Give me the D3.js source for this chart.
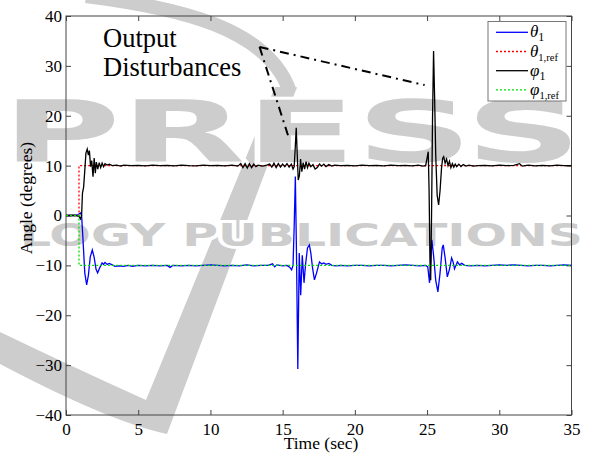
<!DOCTYPE html>
<html>
<head>
<meta charset="utf-8">
<script src="https://cdn.jsdelivr.net/npm/d3@7"></script>
<style>
  body { margin: 0; background: #fff; }
  svg { display: block; }
  svg text { font-family: "Liberation Serif", "Times New Roman", serif; }
  svg text.wm { font-family: "DejaVu Sans", sans-serif; }
</style>
</head>
<body>
<div id="chart"></div>
<script>
const xTicks = [0, 5, 10, 15, 20, 25, 30, 35];
const yTicks = [-40, -30, -20, -10, 0, 10, 20, 30, 40];

// [time (sec), angle (deg)]
const theta1 = [
  [0, 0], [0.3, 0.05], [0.6, 0], [0.85, 0.2], [1.0, 0.5], [1.08, 0], [1.18, -5], [1.3, -11.5],
  [1.43, -13.9], [1.55, -12], [1.68, -8.3], [1.82, -6.9], [1.95, -8.4], [2.08, -10.8], [2.19, -11.5],
  [2.35, -10.4], [2.5, -9.5], [2.6, -9.8], [2.7, -9.4], [2.85, -9.8], [3.0, -9.6], [3.2, -9.9],
  [3.4, -10.2], [3.7, -10.1], [4.0, -10.2], [4.3, -10], [4.6, -10.2], [5.0, -10], [5.5, -10.1],
  [6.0, -10], [6.5, -10.1], [7.0, -10], [7.2, -10.4], [7.4, -10], [8, -10.1], [8.5, -10], [9, -10.1],
  [9.5, -10], [10, -9.9], [10.5, -10], [11, -10.1], [11.5, -10], [12, -10.1], [12.5, -9.9], [13, -10.1],
  [13.5, -10], [14, -10], [14.3, -9.7], [14.45, -10.3], [14.6, -9.9], [15, -10.1], [15.3, -10],
  [15.5, -10.4], [15.62, -10.9], [15.72, -10], [15.8, -2], [15.88, 7.8], [15.96, -8], [16.05, -30.8],
  [16.15, -7.5], [16.25, -16], [16.36, -8], [16.48, -13.5], [16.58, -10], [16.72, -6.5], [16.85, -5.9],
  [16.95, -7.5], [17.07, -10.5], [17.2, -12.9], [17.35, -11.5], [17.55, -9.3], [17.7, -9.7],
  [17.85, -9.5], [18.0, -9.8], [18.2, -9.6], [18.4, -10], [18.7, -10.1], [19, -10], [19.5, -10.1],
  [20, -10], [20.5, -10], [21, -10.1], [21.5, -10], [22, -10], [22.5, -10.1], [23, -10], [23.5, -9.9],
  [24, -10], [24.5, -10.1], [24.9, -10], [25.05, -10.3], [25.17, -13.5], [25.26, -9], [25.33, -4.9],
  [25.45, -8], [25.6, -13], [25.75, -15.3], [25.9, -11.5], [26.05, -6.5], [26.12, -5.9], [26.25, -8.5],
  [26.4, -12.3], [26.55, -10.8], [26.7, -8.5], [26.8, -9.3], [26.9, -10.7], [27.0, -10], [27.1, -9.3],
  [27.25, -9.9], [27.4, -9.6], [27.6, -10], [28, -10.1], [28.5, -10], [29, -10.1], [29.5, -10],
  [30, -9.9], [30.5, -10], [31, -9.9], [31.5, -10], [32, -10.1], [32.5, -10], [33, -10], [33.5, -10.1],
  [34, -10], [34.5, -9.9], [35, -10]
];
const theta1Ref = [[0, 0], [0.9, 0], [0.9, 10], [35, 10]];
const phi1 = [
  [0, 0], [0.3, 0], [0.6, 0.05], [0.9, -0.2], [1.0, -0.7], [1.08, 0], [1.14, 4.5], [1.22, 5.7],
  [1.3, 9], [1.38, 12.5], [1.47, 13.3], [1.55, 12.1], [1.62, 13], [1.7, 9.8], [1.78, 11], [1.87, 7.8],
  [1.95, 11.5], [2.03, 8.5], [2.1, 10.7], [2.2, 9.3], [2.3, 10.6], [2.4, 9.6], [2.5, 10.5], [2.6, 9.8],
  [2.7, 10.4], [2.85, 10.1], [3.0, 10.3], [3.2, 10], [3.5, 10.1], [3.8, 9.9], [4, 10.1], [4.5, 10],
  [5, 10.05], [5.5, 9.95], [6, 10.1], [6.5, 10], [7, 10.05], [7.5, 9.95], [8, 10.1], [8.5, 10],
  [9, 9.95], [9.5, 10.1], [10, 10], [10.5, 10.05], [11, 9.95], [11.5, 10.1], [11.9, 9.9],
  [12.1, 10.4], [12.25, 9.6], [12.4, 10.4], [12.55, 9.5], [12.7, 10.4], [12.85, 9.6], [13.0, 10.3],
  [13.15, 9.8], [13.3, 10.1], [13.6, 9.9], [13.9, 10.1], [14.1, 10.3], [14.25, 9.7], [14.4, 10.5],
  [14.55, 9.6], [14.7, 10.4], [14.85, 9.7], [15.0, 10.3], [15.15, 9.8], [15.3, 10.4], [15.45, 9.7],
  [15.6, 10.3], [15.72, 9.3], [15.8, 9.8], [15.88, 14], [15.94, 17.6], [16.0, 13], [16.08, 7.1],
  [16.16, 8], [16.24, 11.3], [16.33, 8.8], [16.42, 10.6], [16.52, 9.3], [16.62, 10.8], [16.72, 9.6],
  [16.82, 10.5], [16.95, 9.8], [17.1, 10.2], [17.25, 9.3], [17.4, 9.6], [17.55, 10.3], [17.7, 9.9],
  [17.85, 10.3], [18.0, 9.8], [18.2, 10.2], [18.4, 9.9], [18.6, 10.1], [19, 10], [19.5, 10.05],
  [20, 9.95], [20.5, 10.1], [21, 10], [21.5, 10.05], [22, 9.95], [22.5, 10.1], [23, 10], [23.5, 10.05],
  [24, 9.95], [24.4, 10.1], [24.7, 9.9], [24.9, 10], [25.0, 11.5], [25.08, 12.8], [25.14, 5],
  [25.2, -9], [25.25, -13], [25.31, 0], [25.38, 20], [25.45, 33], [25.52, 24], [25.6, 12], [25.7, 4],
  [25.8, 2.1], [25.9, 5], [26.0, 9.5], [26.08, 11.5], [26.15, 11.8], [26.25, 10.5], [26.35, 11.3],
  [26.45, 10], [26.55, 10.9], [26.65, 9.6], [26.75, 10.4], [26.85, 9.7], [26.95, 10.3], [27.05, 9.8],
  [27.2, 10.3], [27.35, 9.8], [27.5, 10.2], [27.7, 9.9], [27.9, 10.1], [28.2, 9.9], [28.5, 10],
  [29, 10.05], [29.5, 9.95], [30, 10.1], [30.5, 10], [31, 10.05], [31.4, 10.4], [31.6, 9.9], [32, 10.1],
  [32.5, 9.95], [33, 10.05], [33.5, 9.95], [34, 10.1], [34.5, 10], [35, 10]
];
const phi1Ref = [[0, 0], [0.9, 0], [0.9, -10], [35, -10]];

// annotation: apex of the two dash-dot pointers and their ends
const pointerApex = [13.4, 33.8];
const pointerEnds = [[15.37, 16.1], [24.83, 26.15]];
const annotationLines = ["Output", "Disturbances"];

const legendItems = [
  { sym: "θ", sub: "1", color: "#0000ff", dash: null, data: theta1 },
  { sym: "θ", sub: "1,ref", color: "#ff0000", dash: "2,2", data: theta1Ref },
  { sym: "φ", sub: "1", color: "#000000", dash: null, data: phi1 },
  { sym: "φ", sub: "1,ref", color: "#00dd00", dash: "2,2", data: phi1Ref }
];

// publisher watermark behind the figure
const watermarkWords = [
  { text: "PRESS", x: 2, y: 162, size: 85, len: 580 },
  { text: "LOGY PUBLICATIONS", x: 20, y: 246, size: 32, len: 563 }
];
const watermarkShapes = [
  "M0,332 Q75,368 146,400 L275,87 L297,87 L167,434 Q110,422 0,364 Z"
];
const watermarkArc = "M86,-4 C180,8 268,28 290,92";

const W = 592, H = 460;
const M = { left: 66, right: 20.5, top: 16, bottom: 45 };
const FONT = "Liberation Serif";
const WM_COLOR = "#cdcdcd";

const svg = d3.select("#chart").append("svg")
  .attr("width", W).attr("height", H)
  .attr("viewBox", `0 0 ${W} ${H}`)
  .attr("font-family", FONT);

const x = d3.scaleLinear().domain([0, 35]).range([M.left, W - M.right]);
const y = d3.scaleLinear().domain([-40, 40]).range([H - M.bottom, M.top]);

// watermark
const wm = svg.append("g").attr("fill", WM_COLOR);
wm.append("path")
  .attr("d", watermarkArc)
  .attr("fill", "none").attr("stroke", WM_COLOR).attr("stroke-width", 14);
wm.selectAll("path.shape").data(watermarkShapes).join("path")
  .attr("class", "shape").attr("d", (d) => d);
wm.selectAll("text").data(watermarkWords).join("text")
  .attr("class", "wm")
  .attr("x", (d) => d.x).attr("y", (d) => d.y)
  .attr("font-weight", "bold")
  .attr("font-size", (d) => d.size)
  .attr("textLength", (d) => d.len)
  .attr("lengthAdjust", "spacingAndGlyphs")
  .attr("stroke", "#fff").attr("stroke-width", 6)
  .attr("paint-order", "stroke")
  .text((d) => d.text);

// axes with inward ticks on all four sides
const axisColor = "#444";
function styleAxis(g) {
  g.select(".domain").remove();
  g.attr("font-family", FONT).attr("font-size", 17);
  g.selectAll("line").attr("stroke", axisColor);
  g.selectAll("text").attr("fill", "#000");
}
svg.append("g").attr("transform", `translate(0,${y(-40)})`)
  .call(d3.axisBottom(x).tickValues(xTicks).tickSizeInner(-5).tickSizeOuter(0).tickPadding(8))
  .call(styleAxis);
svg.append("g").attr("transform", `translate(0,${y(40)})`)
  .call(d3.axisTop(x).tickValues(xTicks).tickSizeInner(-5).tickSizeOuter(0).tickFormat(""))
  .call(styleAxis);
svg.append("g").attr("transform", `translate(${x(0)},0)`)
  .call(d3.axisLeft(y).tickValues(yTicks).tickSizeInner(-5).tickSizeOuter(0).tickPadding(4))
  .call(styleAxis);
svg.append("g").attr("transform", `translate(${x(35)},0)`)
  .call(d3.axisRight(y).tickValues(yTicks).tickSizeInner(-5).tickSizeOuter(0).tickFormat(""))
  .call(styleAxis);

svg.append("rect")
  .attr("x", x(0)).attr("y", y(40))
  .attr("width", x(35) - x(0)).attr("height", y(-40) - y(40))
  .attr("fill", "none").attr("stroke", axisColor).attr("stroke-width", 1);

// data lines
const line = d3.line().x((d) => x(d[0])).y((d) => y(d[1]));
const plot = svg.append("g");
legendItems.forEach((s) => {
  plot.append("path")
    .datum(s.data)
    .attr("d", line)
    .attr("fill", "none")
    .attr("stroke", s.color)
    .attr("stroke-width", 1.3)
    .attr("stroke-dasharray", s.dash);
});

// annotation
svg.append("g").selectAll("line").data(pointerEnds).join("line")
  .attr("x1", x(pointerApex[0])).attr("y1", y(pointerApex[1]))
  .attr("x2", (d) => x(d[0])).attr("y2", (d) => y(d[1]))
  .attr("stroke", "#000").attr("stroke-width", 2)
  .attr("stroke-dasharray", "9,5,2,5");

svg.append("text")
  .attr("x", 103).attr("y", 47)
  .attr("font-size", 26.5)
  .selectAll("tspan").data(annotationLines).join("tspan")
  .attr("x", 103).attr("dy", (d, i) => (i === 0 ? 0 : 29))
  .text((d) => d);

// axis titles
svg.append("text")
  .attr("x", 321).attr("y", 449)
  .attr("text-anchor", "middle").attr("font-size", 17.5)
  .text("Time (sec)");
svg.append("text")
  .attr("transform", "translate(32,198) rotate(-90)")
  .attr("text-anchor", "middle").attr("font-size", 17.5)
  .text("Angle (degrees)");

// legend
const lg = svg.append("g");
lg.append("rect")
  .attr("x", 488).attr("y", 21.5).attr("width", 78).attr("height", 79.5)
  .attr("fill", "#fff").attr("stroke", "#777").attr("stroke-width", 1);
const rows = lg.selectAll("g.row").data(legendItems).join("g")
  .attr("class", "row")
  .attr("transform", (d, i) => `translate(0,${32.3 + i * 19.2})`);
rows.append("line")
  .attr("x1", 496).attr("x2", 528)
  .attr("stroke", (d) => d.color).attr("stroke-width", 1.3)
  .attr("stroke-dasharray", (d) => d.dash);
const lt = rows.append("text").attr("x", 530).attr("y", 5).attr("font-size", 17);
lt.append("tspan").attr("font-style", "italic").text((d) => d.sym);
lt.append("tspan").attr("dy", 4).attr("font-size", (d) => (d.sub === "1" ? 12 : 10.5)).text((d) => d.sub);
</script>
</body>
</html>
